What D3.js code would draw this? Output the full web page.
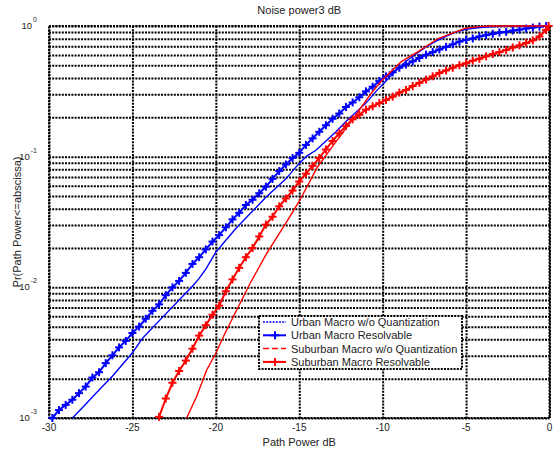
<!DOCTYPE html>
<html>
<head>
<meta charset="utf-8">
<script src="https://d3js.org/d3.v7.min.js"></script>
<style>
    body { margin: 0; background: #fff; }
    text { font-family: "Liberation Sans", Arial, sans-serif; fill: #222; }
</style>
</head>
<body>
<svg id="grafico" width="553" height="453"></svg>
<script>
// Valores
var xTicks = [-30, -25, -20, -15, -10, -5, 0];
var yDecadas = [-3, -2, -1, 0];

var urbanNoQX = [-28.6, -28.0, -27.4, -26.8, -26.2, -25.6, -25.0, -24.4, -23.8, -23.2, -22.6, -22.0, -21.4, -21.0, -20.6, -20.0, -19.4, -18.8, -18.2, -17.6, -17.0, -16.4, -15.8, -15.2, -14.6, -14.0, -13.4, -12.8, -12.2, -11.6, -11.0, -10.4, -9.8, -9.2, -8.6, -8.0, -7.4, -6.8, -6.2, -5.6, -5.0, -4.4, -3.8, -3.2, -2.6, -2.0, -1.0, 0];
var urbanNoQP = [0.00100, 0.00120, 0.00145, 0.00174, 0.00209, 0.00257, 0.00316, 0.00407, 0.00490, 0.00589, 0.00708, 0.00851, 0.0102, 0.0117, 0.0138, 0.0186, 0.0229, 0.0282, 0.0339, 0.0407, 0.0490, 0.0575, 0.0676, 0.0832, 0.100, 0.112, 0.132, 0.155, 0.186, 0.219, 0.257, 0.316, 0.380, 0.457, 0.537, 0.610, 0.692, 0.767, 0.832, 0.902, 0.944, 0.966, 0.982, 0.991, 0.995, 0.998, 1.0, 1.0];

var urbanResX = [-29.8, -29.4, -29.0, -28.6, -28.2, -27.8, -27.4, -27.0, -26.6, -26.2, -25.8, -25.4, -25.0, -24.6, -24.2, -23.8, -23.4, -23.0, -22.6, -22.2, -21.8, -21.4, -21.0, -20.6, -20.2, -19.8, -19.4, -19.0, -18.6, -18.2, -17.8, -17.4, -17.0, -16.6, -16.2, -15.8, -15.4, -15.0, -14.6, -14.2, -13.8, -13.4, -13.0, -12.6, -12.2, -11.8, -11.4, -11.0, -10.6, -10.2, -9.8, -9.4, -9.0, -8.6, -8.2, -7.8, -7.4, -7.0, -6.6, -6.2, -5.8, -5.4, -5.0, -4.6, -4.2, -3.8, -3.4, -3.0, -2.6, -2.2, -1.8, -1.4, -1.0, -0.6, -0.2];
var urbanResP = [0.00100, 0.00115, 0.00126, 0.00138, 0.00155, 0.00174, 0.00204, 0.00224, 0.00263, 0.00302, 0.00347, 0.00389, 0.00447, 0.00501, 0.00575, 0.00661, 0.00741, 0.00871, 0.0100, 0.0112, 0.0129, 0.0151, 0.0170, 0.0195, 0.0224, 0.0251, 0.0288, 0.0331, 0.0372, 0.0427, 0.0468, 0.0525, 0.0589, 0.0676, 0.0776, 0.0871, 0.0977, 0.107, 0.123, 0.138, 0.155, 0.174, 0.195, 0.214, 0.240, 0.260, 0.285, 0.316, 0.343, 0.380, 0.412, 0.442, 0.479, 0.507, 0.537, 0.569, 0.603, 0.631, 0.661, 0.692, 0.724, 0.759, 0.785, 0.803, 0.832, 0.851, 0.871, 0.891, 0.902, 0.923, 0.938, 0.955, 0.973, 0.989, 1.0];

var suburbanNoQX = [-21.75, -21.15, -20.55, -20.0, -19.55, -18.75, -17.95, -16.95, -15.74, -15.0, -13.93, -12.92, -11.71, -10.71, -10.04, -8.9, -7.9, -6.68, -5.07, -4.2, -3.5, 0];
var suburbanNoQP = [0.00100, 0.00146, 0.00233, 0.00313, 0.00419, 0.00671, 0.0107, 0.0182, 0.0320, 0.0456, 0.0824, 0.124, 0.200, 0.303, 0.384, 0.531, 0.634, 0.802, 0.959, 0.989, 1.0, 1.0];

var suburbanResX = [-23.4, -23.0, -22.6, -22.2, -21.8, -21.4, -21.0, -20.6, -20.2, -19.8, -19.4, -19.0, -18.6, -18.2, -17.8, -17.4, -17.0, -16.6, -16.2, -15.8, -15.4, -15.0, -14.6, -14.2, -13.8, -13.4, -13.0, -12.6, -12.2, -11.8, -11.4, -11.0, -10.6, -10.2, -9.8, -9.4, -9.0, -8.6, -8.2, -7.8, -7.4, -7.0, -6.6, -6.2, -5.8, -5.4, -5.0, -4.6, -4.2, -3.8, -3.4, -3.0, -2.6, -2.2, -1.8, -1.4, -1.0, -0.6, -0.2, -0.05];
var suburbanResP = [0.00102, 0.00141, 0.00186, 0.00229, 0.00275, 0.00339, 0.00427, 0.00513, 0.00617, 0.00724, 0.00933, 0.0115, 0.0141, 0.0170, 0.0200, 0.0245, 0.0302, 0.0347, 0.0417, 0.0479, 0.0550, 0.0646, 0.0741, 0.0851, 0.0977, 0.1135, 0.132, 0.151, 0.172, 0.193, 0.209, 0.229, 0.243, 0.257, 0.272, 0.288, 0.309, 0.324, 0.347, 0.367, 0.389, 0.412, 0.437, 0.457, 0.479, 0.501, 0.519, 0.543, 0.562, 0.586, 0.610, 0.631, 0.656, 0.684, 0.711, 0.741, 0.776, 0.832, 0.933, 1.0];

var series = [
    { nombre: "Urban Macro w/o Quantization", xs: urbanNoQX, ps: urbanNoQP, color: "#0000ff", marcas: false, dash: "2,1.2" },
    { nombre: "Urban Macro Resolvable", xs: urbanResX, ps: urbanResP, color: "#0000ff", marcas: true },
    { nombre: "Suburban Macro w/o Quantization", xs: suburbanNoQX, ps: suburbanNoQP, color: "#ff0000", marcas: false, dash: "6,3" },
    { nombre: "Suburban Macro Resolvable", xs: suburbanResX, ps: suburbanResP, color: "#ff0000", marcas: true }
];

var margin = { top: 26, right: 3.5, bottom: 35, left: 49 },
    width = 553 - margin.left - margin.right,
    height = 453 - margin.top - margin.bottom;

var svg = d3.select("#grafico")
    .append("g")
    .attr("transform", "translate(" + margin.left + "," + margin.top + ")");

var x = d3.scaleLinear().domain([-30, 0]).range([0, width]);
var y = d3.scaleLog().domain([1e-3, 1]).range([height, 0]);

var rejilla = "2,1.2";

// lineas de rejilla horizontales (decadas y subdivisiones)
var yGrid = [];
yDecadas.forEach(function (k) {
    yGrid.push(Math.pow(10, k));
    if (k < 0) {
        for (var m = 2; m <= 9; m++) yGrid.push(m * Math.pow(10, k));
    }
});

svg.append("g")
    .call(d3.axisLeft(y).tickValues(yGrid).tickSize(-width).tickFormat(""))
    .call(function (g) { g.select(".domain").remove(); })
    .selectAll("line")
    .attr("stroke", "#000")
    .attr("stroke-width", 2)
    .attr("stroke-dasharray", rejilla);

svg.append("g")
    .call(d3.axisBottom(x).tickValues(xTicks).tickSize(height).tickFormat(""))
    .call(function (g) { g.select(".domain").remove(); })
    .selectAll("line")
    .attr("stroke", "#000")
    .attr("stroke-width", 2)
    .attr("stroke-dasharray", rejilla);

svg.append("rect")
    .attr("width", width)
    .attr("height", height)
    .attr("fill", "none")
    .attr("stroke", "#000")
    .attr("stroke-width", 2)
    .attr("stroke-dasharray", rejilla);

// etiquetas de los ejes
svg.selectAll(".xlab")
    .data(xTicks)
    .enter().append("text")
    .attr("x", function (d) { return x(d); })
    .attr("y", height + 13)
    .attr("text-anchor", "middle")
    .style("font-size", "10px")
    .text(function (d) { return String(d); });

var yLab = svg.selectAll(".ylab")
    .data(yDecadas)
    .enter().append("text")
    .attr("x", -12)
    .attr("y", function (d) { return y(Math.pow(10, d)) + 3; })
    .attr("text-anchor", "end")
    .style("font-size", "9.5px")
    .text("10");
yLab.append("tspan")
    .attr("dx", 1)
    .attr("dy", -7)
    .style("font-size", "7px")
    .text(function (d) { return String(d); });

svg.append("text")
    .attr("x", width / 2)
    .attr("y", -12)
    .attr("text-anchor", "middle")
    .style("font-size", "11px")
    .text("Noise power3 dB");

svg.append("text")
    .attr("x", width / 2)
    .attr("y", height + 28)
    .attr("text-anchor", "middle")
    .style("font-size", "11px")
    .text("Path Power dB");

svg.append("text")
    .attr("transform", "rotate(-90)")
    .attr("x", -height / 2)
    .attr("y", -28.5)
    .attr("text-anchor", "middle")
    .style("font-size", "11px")
    .text("Pr(Path Power<=abscissa)");

// curvas
var linea = d3.line()
    .x(function (d) { return x(d[0]); })
    .y(function (d) { return y(d[1]); });

function cruz(g, color) {
    g.append("line").attr("x1", -4).attr("x2", 4).attr("y1", 0).attr("y2", 0);
    g.append("line").attr("x1", 0).attr("x2", 0).attr("y1", -4).attr("y2", 4);
    g.selectAll("line").attr("stroke", color).attr("stroke-width", 2);
}

series.forEach(function (s) {
    var puntos = s.xs.map(function (v, i) { return [v, s.ps[i]]; });
    svg.append("path")
        .datum(puntos)
        .attr("fill", "none")
        .attr("stroke", s.color)
        .attr("stroke-width", s.marcas ? 2 : 1.4)
        .attr("d", linea);
    if (s.marcas) {
        svg.append("g").selectAll("g")
            .data(puntos)
            .enter().append("g")
            .attr("transform", function (d) { return "translate(" + x(d[0]) + "," + y(d[1]) + ")"; })
            .each(function () { cruz(d3.select(this), s.color); });
    }
});

// leyenda
var leyenda = svg.append("g")
    .attr("transform", "translate(" + (259 - margin.left) + "," + (316 - margin.top) + ")");

leyenda.append("rect")
    .attr("width", 203)
    .attr("height", 53)
    .attr("fill", "#fff")
    .attr("stroke", "#000")
    .attr("stroke-width", 2)
    .attr("stroke-dasharray", rejilla);

series.forEach(function (s, i) {
    var fila = leyenda.append("g")
        .attr("transform", "translate(0," + (6 + i * 13.3) + ")");
    fila.append("line")
        .attr("x1", 4).attr("x2", 27)
        .attr("stroke", s.color)
        .attr("stroke-width", s.marcas ? 2 : 1.5)
        .attr("stroke-dasharray", s.marcas ? null : s.dash);
    if (s.marcas) {
        var c = fila.append("g").attr("transform", "translate(16,0)");
        cruz(c, s.color);
    }
    fila.append("text")
        .attr("x", 32)
        .attr("y", 4)
        .style("font-size", "11px")
        .text(s.nombre);
});
</script>
</body>
</html>
